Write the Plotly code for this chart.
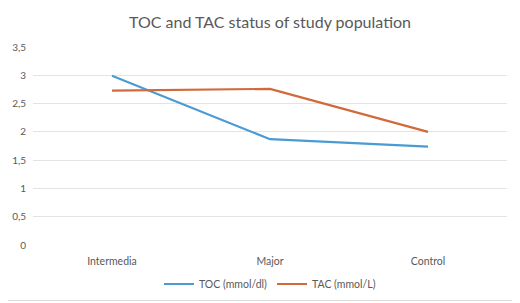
import plotly.graph_objects as go

categories = ["Intermedia", "Major", "Control"]
toc_values = [2.99, 1.87, 1.74]
tac_values = [2.73, 2.76, 2.0]
y_ticks = [0, 0.5, 1, 1.5, 2, 2.5, 3, 3.5]

font_family = "Lato, 'Open Sans', sans-serif"
grey = "#595959"

fig = go.Figure()
fig.add_trace(go.Scatter(x=categories, y=toc_values, mode="lines", name="TOC (mmol/dl)",
                         line=dict(color="#4A9BD3", width=2.2)))
fig.add_trace(go.Scatter(x=categories, y=tac_values, mode="lines", name="TAC (mmol/L)",
                         line=dict(color="#D2693A", width=2.2)))

fig.update_layout(
    width=520, height=303,
    margin=dict(l=25, r=21, t=39, b=66, autoexpand=False),
    paper_bgcolor="white", plot_bgcolor="white",
    separators=", ",
    title=dict(text="TOC and TAC status of study population", x=0.5, xanchor="center",
               xref="paper", y=0.954, yanchor="middle",
               font=dict(family=font_family, size=16, color=grey)),
    font=dict(family=font_family, size=10, color=grey),
    xaxis=dict(range=[-0.5, 2.5], showgrid=False, showline=False, zeroline=False, ticks="",
               tickfont=dict(size=10.5, color=grey), ticklabelstandoff=8),
    yaxis=dict(range=[0, 3.5], tickvals=y_ticks, showgrid=True, gridcolor="#E3E3E3", gridwidth=1,
               zeroline=False, showline=False, ticks="", tickfont=dict(size=10, color=grey),
               ticklabelstandoff=6),
    legend=dict(orientation="h", x=0.5, xanchor="center", y=-0.197, yanchor="middle",
                font=dict(size=10.5, color=grey), itemwidth=30),
    showlegend=True,
    shapes=[dict(type="rect", xref="paper", yref="paper", x0=-0.063, x1=1.017, y0=-0.28, y1=1.227,
                 line=dict(color="#D9D9D9", width=1), fillcolor="rgba(0,0,0,0)")],
)

fig.write_html("out.html")
